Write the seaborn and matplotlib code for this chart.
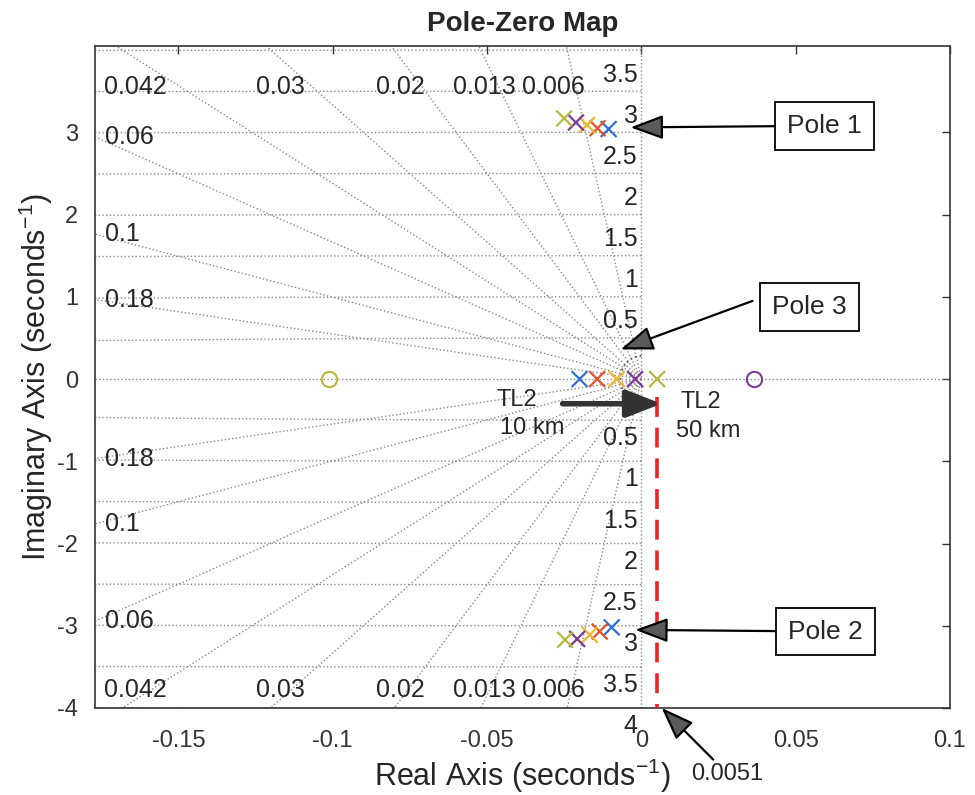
import numpy as np
import pandas as pd
import matplotlib
matplotlib.use("Agg")
import matplotlib.pyplot as plt
import seaborn as sns

# ---------------- data ----------------
cases = ["Case 1", "Case 2", "Case 3", "Case 4", "Case 5"]
case_colors = ["#2f6fd8", "#e2522a", "#f0b52c", "#7b3c96", "#b7b83c"]

pole1_re = [-0.0106, -0.0142, -0.0176, -0.0212, -0.0250]
pole1_im = [3.04, 3.05, 3.09, 3.12, 3.17]
pole2_re = [-0.0096, -0.0135, -0.0167, -0.0208, -0.0247]
pole2_im = [-3.02, -3.07, -3.11, -3.16, -3.17]
pole3_re = [-0.0200, -0.0143, -0.0080, -0.0020, 0.0051]
pole3_im = [0.0, 0.0, 0.0, 0.0, 0.0]

zero_re = [-0.1013, 0.0365]
zero_im = [0.0, 0.0]
zero_case = ["Case 5", "Case 4"]

damping = [0.006, 0.013, 0.02, 0.03, 0.042, 0.06, 0.1, 0.18]
damping_labels = ["0.006", "0.013", "0.02", "0.03", "0.042", "0.06", "0.1", "0.18"]
wn_values = [0.5, 1, 1.5, 2, 2.5, 3, 3.5, 4]
wn_labels = ["0.5", "1", "1.5", "2", "2.5", "3", "3.5", "4"]

x_ticks = [-0.15, -0.1, -0.05, 0, 0.05, 0.1]
x_ticklabels = ["-0.15", "-0.1", "-0.05", "0", "0.05", "0.1"]
y_ticks = [-4, -3, -2, -1, 0, 1, 2, 3]
y_ticklabels = ["-4", "-3", "-2", "-1", "0", "1", "2", "3"]

marker_line = 0.0051
marker_label = "0.0051"

# ---------------- style ----------------
sns.set_theme(style="white")
plt.rcParams["font.family"] = ["Liberation Sans", "DejaVu Sans"]
plt.rcParams["mathtext.default"] = "regular"

XMIN, XMAX = -0.177, 0.1
YMIN, YMAX = -4.0, 4.05
GRID = "#8a8a8a"
LABEL_FS = 18

fig = plt.figure(figsize=(9.75, 7.95), dpi=100)
ax = fig.add_axes([95 / 975, (795 - 708) / 795, (950 - 95) / 975, (708 - 46) / 795])
ax.set_xlim(XMIN, XMAX)
ax.set_ylim(YMIN, YMAX)

# ---------------- s-plane grid ----------------
for z in damping:
    r = 10.0
    for s in (1, -1):
        ax.plot([0, -z * r], [0, s * np.sqrt(1 - z * z) * r], ls=":", color=GRID, lw=1.0, zorder=1)
for w in wn_values:
    xs = np.linspace(max(-w, XMIN), 0, 400)
    ys = np.sqrt(np.maximum(w * w - xs * xs, 0))
    ax.plot(xs, ys, ls=":", color=GRID, lw=1.0, zorder=1)
    ax.plot(xs, -ys, ls=":", color=GRID, lw=1.0, zorder=1)
ax.axhline(0, ls=":", color=GRID, lw=1.0, zorder=1)
ax.axvline(0, ls=":", color=GRID, lw=1.0, zorder=1)
t = np.linspace(np.pi / 2, 3 * np.pi / 2, 200)
ax.plot(0.0068 * np.cos(t), 0.28 * np.sin(t), ls=":", color="#555555", lw=1.3, zorder=1)

# damping labels: at the left edge if the ray leaves there, else near the top/bottom edge
for z, lab in zip(damping, damping_labels):
    k = np.sqrt(1 - z * z) / z
    y_exit = k * (-XMIN)
    if y_exit < 3.6:
        ax.text(XMIN + 0.0033, y_exit, lab, ha="left", va="center", fontsize=LABEL_FS)
        ax.text(XMIN + 0.0033, -y_exit, lab, ha="left", va="center", fontsize=LABEL_FS)
    else:
        xl = min(-3.9 / k, -0.0285)
        ax.text(xl, 3.55, lab, ha="center", va="center", fontsize=LABEL_FS)
        ax.text(xl, -3.78, lab, ha="center", va="center", fontsize=LABEL_FS)

# natural-frequency labels
for w, lab in zip(wn_values, wn_labels):
    if w + 0.2 < YMAX:
        ax.text(-0.0012, w + 0.2, lab, ha="right", va="center", fontsize=LABEL_FS)
    ax.text(-0.0012, -(w + 0.22), lab, ha="right", va="center", fontsize=LABEL_FS, clip_on=False)

# ---------------- poles and zeros ----------------
poles = pd.DataFrame({
    "re": pole1_re + pole2_re + pole3_re,
    "im": pole1_im + pole2_im + pole3_im,
    "case": cases * 3,
})
palette = dict(zip(cases, case_colors))
sns.scatterplot(data=poles, x="re", y="im", hue="case", palette=palette, marker="x",
                s=130, linewidth=1.6, legend=False, ax=ax, zorder=5)
for zr, zi, zc in zip(zero_re, zero_im, zero_case):
    ax.plot(zr, zi, marker="o", ms=11, mfc="none", mec=palette[zc], mew=1.5, ls="none", zorder=5)

# red dashed marker line
ax.plot([marker_line, marker_line], [-0.22, YMIN], color="#e8262a", lw=2.6,
        ls=(0, (5.5, 3)), zorder=4)

# ---------------- annotations ----------------
arrow_kw = dict(arrowstyle="-|>,head_length=1.35,head_width=0.5", fc="#5a5a5a", ec="black",
                lw=1.6, mutation_scale=15, shrinkA=0, shrinkB=0)
box_kw = dict(boxstyle="square,pad=0.45", fc="white", ec="black", lw=1.3)
ax.annotate("Pole 1", xy=(-0.0035, 3.06), xytext=(0.0593, 3.08), fontsize=19,
            ha="center", va="center", bbox=box_kw, arrowprops=arrow_kw, zorder=6)
ax.annotate("", xy=(-0.0067, 0.36), xytext=(0.0360, 0.95), arrowprops=arrow_kw, zorder=6)
ax.text(0.0545, 0.88, "Pole 3", fontsize=19, ha="center", va="center", bbox=box_kw, zorder=7)
ax.annotate("Pole 2", xy=(-0.002, -3.05), xytext=(0.0596, -3.07), fontsize=19,
            ha="center", va="center", bbox=box_kw, arrowprops=arrow_kw, zorder=6)
ax.annotate(marker_label, xy=(marker_line + 0.0015, -4.0), xytext=(0.0279, -4.8), fontsize=17,
            ha="center", va="center", arrowprops=arrow_kw, annotation_clip=False, zorder=6)

ax.annotate("", xy=(0.0065, -0.3), xytext=(-0.0255, -0.3),
            arrowprops=dict(arrowstyle="-|>,head_length=1.4,head_width=0.55", fc="#333333",
                            ec="#333333", lw=4, mutation_scale=15, shrinkA=0, shrinkB=0), zorder=6)
ax.text(-0.0404, -0.26, "TL2", ha="center", va="center", fontsize=17)
ax.text(-0.0355, -0.60, "10 km", ha="center", va="center", fontsize=17)
ax.text(0.0192, -0.28, "TL2", ha="center", va="center", fontsize=17)
ax.text(0.0215, -0.63, "50 km", ha="center", va="center", fontsize=17)

# ---------------- axes cosmetics ----------------
ax.set_xticks(x_ticks)
ax.set_xticklabels(x_ticklabels)
ax.set_yticks(y_ticks)
ax.set_yticklabels(y_ticklabels)
ax.tick_params(direction="in", top=True, right=True, length=6, width=1, color="#333333",
               labelsize=17, labelcolor="#333333")
ax.tick_params(axis="x", pad=16)
ax.tick_params(axis="y", pad=12)
for sp in ax.spines.values():
    sp.set_color("#333333")
    sp.set_linewidth(1.2)
ax.set_xlabel("Real Axis (seconds$^{-1}$)", fontsize=22, labelpad=3)
ax.set_ylabel("Imaginary Axis (seconds$^{-1}$)", fontsize=22, labelpad=2)
ax.set_title("Pole-Zero Map", fontsize=20, fontweight="bold", pad=11)

fig.savefig("out.png", dpi=100)
